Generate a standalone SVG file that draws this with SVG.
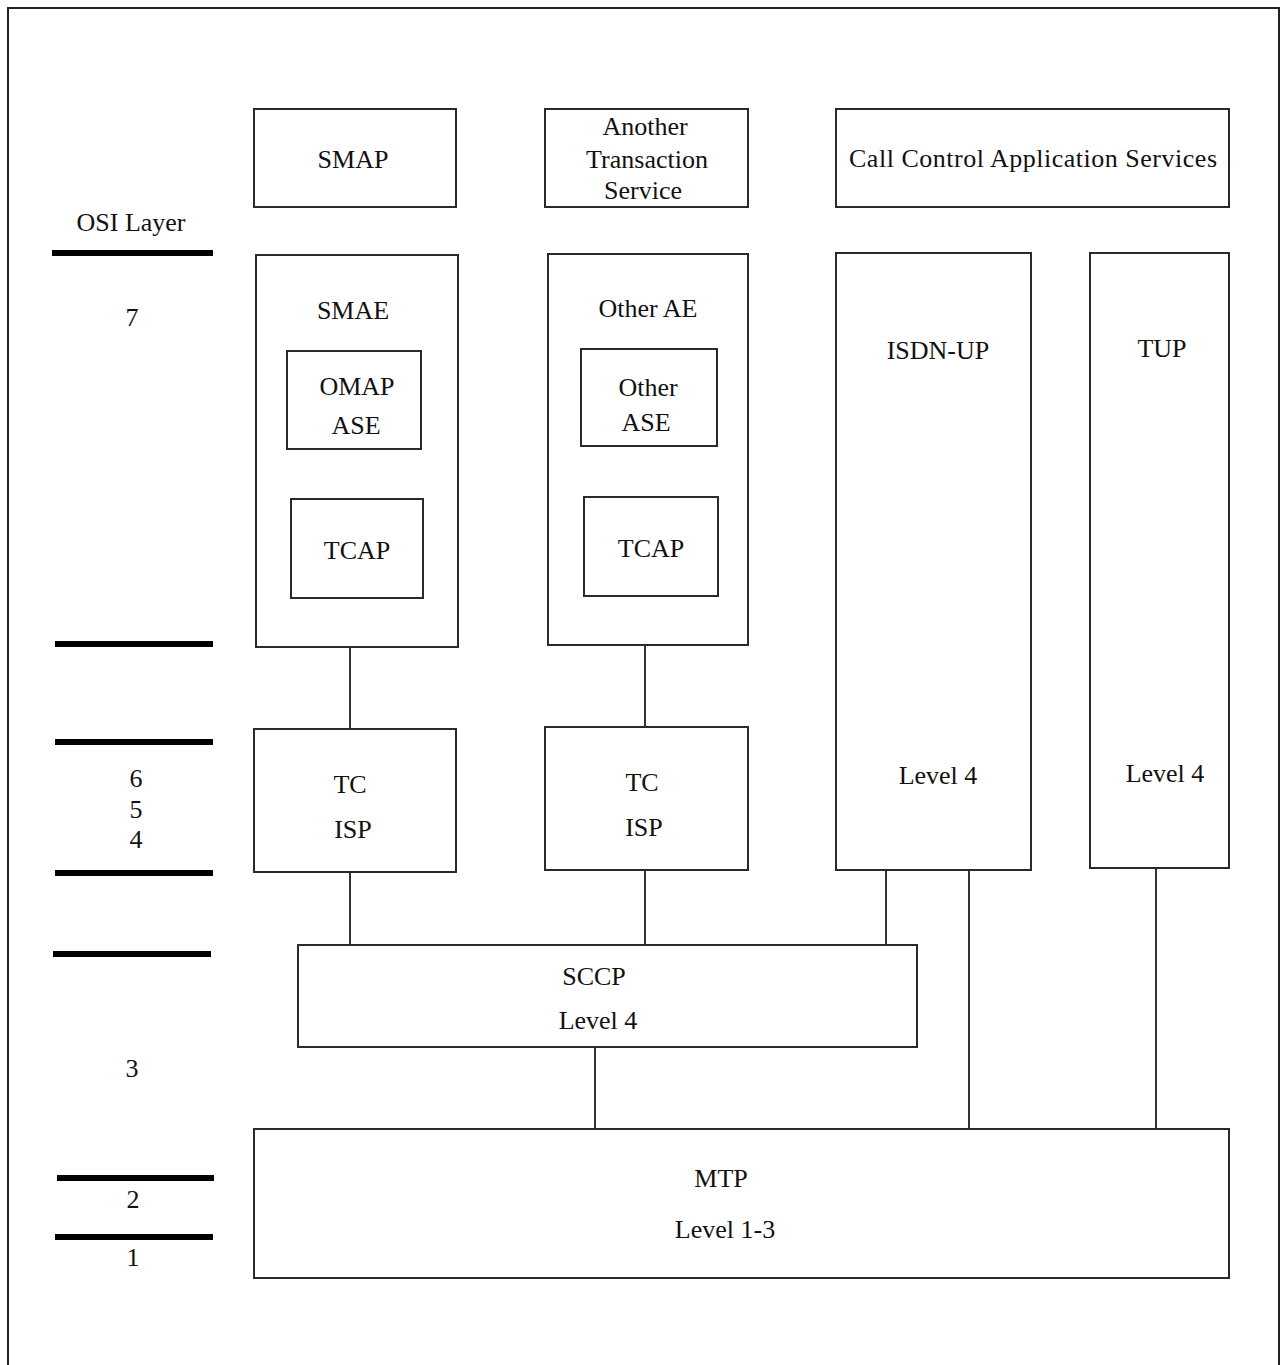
<svg xmlns="http://www.w3.org/2000/svg" width="1282" height="1365" viewBox="0 0 1282 1365">
<style>
.b{fill:#fff;stroke:#2a2a2a;stroke-width:2}
.t{font-family:"Liberation Serif","Times New Roman",serif;font-size:26px;fill:#111;text-anchor:middle;dominant-baseline:central}
.c line{stroke:#333;stroke-width:2}
.bar{stroke:#000;stroke-width:6}
</style>
<rect width="1282" height="1365" fill="#fff"/>
<path d="M8,1365 V8 H1279 V1365" fill="none" stroke="#222" stroke-width="2"/>
<g id="osi">
<text class="t" x="131" y="222">OSI Layer</text>
<line class="bar" x1="52" y1="253" x2="213" y2="253"/>
<text class="t" x="132" y="317">7</text>
<line class="bar" x1="55" y1="644" x2="213" y2="644"/>
<line class="bar" x1="55" y1="742" x2="213" y2="742"/>
<text class="t" x="136" y="778">6</text>
<text class="t" x="136" y="809">5</text>
<text class="t" x="136" y="839">4</text>
<line class="bar" x1="55" y1="873" x2="213" y2="873"/>
<line class="bar" x1="53" y1="954" x2="211" y2="954"/>
<text class="t" x="132" y="1068">3</text>
<line class="bar" x1="57" y1="1178" x2="214" y2="1178"/>
<text class="t" x="133" y="1199">2</text>
<line class="bar" x1="55" y1="1237" x2="213" y2="1237"/>
<text class="t" x="133" y="1257">1</text>
</g>
<g class="c" id="connectors">
<line x1="350" y1="647" x2="350" y2="729"/>
<line x1="645" y1="645" x2="645" y2="727"/>
<line x1="350" y1="872" x2="350" y2="945"/>
<line x1="645" y1="870" x2="645" y2="945"/>
<line x1="886" y1="870" x2="886" y2="945"/>
<line x1="969" y1="870" x2="969" y2="1129"/>
<line x1="1156" y1="868" x2="1156" y2="1129"/>
<line x1="595" y1="1047" x2="595" y2="1129"/>
</g>
<g id="smap"><rect class="b" x="254" y="109" width="202" height="98"/><text class="t" x="353" y="159">SMAP</text></g>
<g id="ats"><rect class="b" x="545" y="109" width="203" height="98"/><text class="t" x="645" y="126">Another</text><text class="t" x="647" y="159">Transaction</text><text class="t" x="643" y="190">Service</text></g>
<g id="ccas"><rect class="b" x="836" y="109" width="393" height="98"/><text class="t" x="1033" y="158" textLength="368" lengthAdjust="spacing">Call Control Application Services</text></g>
<g id="smae"><rect class="b" x="256" y="255" width="202" height="392"/><text class="t" x="353" y="310">SMAE</text></g>
<g id="omap"><rect class="b" x="287" y="351" width="134" height="98"/><text class="t" x="357" y="386">OMAP</text><text class="t" x="356" y="425">ASE</text></g>
<g id="tcap1"><rect class="b" x="291" y="499" width="132" height="99"/><text class="t" x="357" y="550">TCAP</text></g>
<g id="otherae"><rect class="b" x="548" y="254" width="200" height="391"/><text class="t" x="648" y="308">Other AE</text></g>
<g id="otherase"><rect class="b" x="581" y="349" width="136" height="97"/><text class="t" x="648" y="387">Other</text><text class="t" x="646" y="422">ASE</text></g>
<g id="tcap2"><rect class="b" x="584" y="497" width="134" height="99"/><text class="t" x="651" y="548">TCAP</text></g>
<g id="isdnup"><rect class="b" x="836" y="253" width="195" height="617"/><text class="t" x="938" y="350">ISDN-UP</text><text class="t" x="938" y="775">Level 4</text></g>
<g id="tup"><rect class="b" x="1090" y="253" width="139" height="615"/><text class="t" x="1162" y="348">TUP</text><text class="t" x="1165" y="773">Level 4</text></g>
<g id="tcisp1"><rect class="b" x="254" y="729" width="202" height="143"/><text class="t" x="350" y="784">TC</text><text class="t" x="353" y="829">ISP</text></g>
<g id="tcisp2"><rect class="b" x="545" y="727" width="203" height="143"/><text class="t" x="642" y="782">TC</text><text class="t" x="644" y="827">ISP</text></g>
<g id="sccp"><rect class="b" x="298" y="945" width="619" height="102"/><text class="t" x="594" y="976">SCCP</text><text class="t" x="598" y="1020">Level 4</text></g>
<g id="mtp"><rect class="b" x="254" y="1129" width="975" height="149"/><text class="t" x="721" y="1178">MTP</text><text class="t" x="725" y="1229">Level 1-3</text></g>
</svg>
